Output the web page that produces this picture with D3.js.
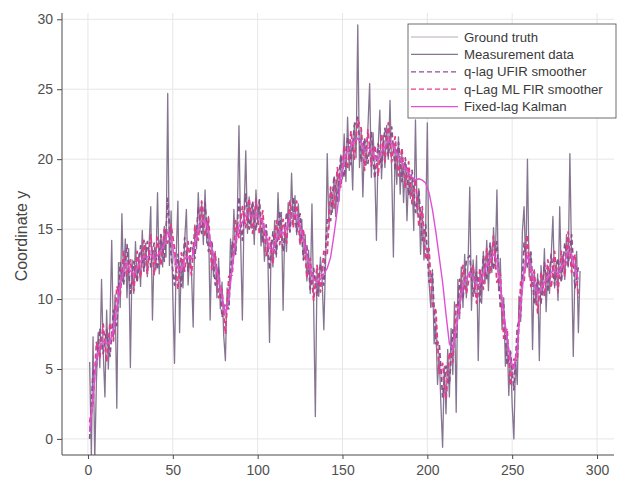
<!DOCTYPE html>
<html>
<head>
<meta charset="utf-8">
<script src="https://cdn.jsdelivr.net/npm/d3@7"></script>
<style>
  html, body { margin: 0; padding: 0; background: #fff; }
  svg { display: block; font-family: "Liberation Sans", Arial, sans-serif; }
</style>
</head>
<body>
<svg id="chart" width="627" height="485"></svg>
<script>
// ---------- DATA ----------
const xTicks = [0, 50, 100, 150, 200, 250, 300];
const yTicks = [0, 5, 10, 15, 20, 25, 30];
const seriesNames = ["Ground truth", "Measurement data", "q-lag UFIR smoother", "q-Lag ML FIR smoother", "Fixed-lag Kalman"];

// measurement data, samples k = 1..290
const measurement = [
  5.5, -1.2, 7.3, -1.5, 4.2, 7.6, 5.1, 11.4, 6.2, 3.0,
  9.2, 5.0, 8.4, 14.2, 7.1, 10.3, 2.2, 12.6, 9.4, 16.1,
  11.2, 14.3, 10.1, 13.6, 5.1, 12.8, 10.4, 14.1, 11.3, 13.2,
  10.9, 14.9, 12.2, 14.0, 11.6, 13.8, 16.6, 8.5, 13.4, 12.1,
  17.6, 11.8, 14.6, 12.3, 15.2, 13.0, 24.7, 12.4, 16.3, 10.2,
  5.4, 13.1, 17.0, 7.6, 12.9, 10.8, 14.2, 16.4, 11.0, 13.1,
  12.0, 8.0, 15.3, 13.6, 17.6, 14.8, 16.9, 13.9, 17.8, 14.0,
  15.9, 8.5, 13.8, 11.6, 13.4, 10.1, 12.9, 9.3, 11.2, 7.4,
  5.6, 10.8, 9.6, 14.3, 12.6, 16.4, 13.2, 15.8, 22.4, 14.1,
  8.5, 16.2, 20.6, 14.7, 17.3, 15.1, 16.8, 13.9, 17.8, 15.4,
  16.9, 13.8, 15.6, 12.7, 14.9, 13.1, 6.9, 14.2, 12.3, 15.6,
  13.0, 17.6, 14.5, 16.2, 9.2, 15.3, 13.4, 16.9, 14.8, 19.0,
  15.2, 17.4, 14.6, 16.8, 13.9, 15.7, 12.8, 14.6, 11.3, 13.5,
  10.4, 16.8, 9.6, 1.6, 12.1, 10.2, 13.0, 11.4, 7.8, 12.6,
  20.4, 15.1, 17.8, 16.2, 18.4, 15.9, 19.2, 17.0, 20.3, 18.6,
  21.8, 18.4, 23.0, 19.2, 21.3, 17.8, 22.6, 20.1, 29.6, 19.4,
  22.1, 17.3, 21.4, 19.6, 22.3, 25.4, 18.7, 21.9, 19.3, 14.2,
  20.8, 23.5, 18.6, 21.7, 19.4, 22.4, 20.0, 24.2, 19.1, 13.0,
  20.9, 18.2, 21.6, 17.5, 20.4, 16.9, 19.8, 15.6, 19.1, 17.2,
  18.6, 14.9, 22.8, 16.1, 17.9, 13.2, 16.4, 12.8, 15.0, 22.6,
  11.2, 9.4, 12.1, 6.8, 8.3, 3.9, 6.1, 2.4, -0.6, 5.2,
  1.8, 6.4, 3.0, 7.9, 4.6, 9.8, 1.9, 11.4, 8.6, 12.3,
  9.4, 13.2, 10.1, 12.6, 18.0, 9.2, 12.8, 10.4, 13.1, 5.6,
  11.9, 9.7, 13.4, 11.1, 14.2, 10.6, 13.8, 11.9, 15.1, 12.4,
  17.8, 10.6, 12.9, 7.8, 10.1, 5.2, 7.6, 3.1, 6.3, 2.4,
  0.0, 5.8, 3.9, 10.2, 8.4, 14.8, 16.6, 12.2, 20.0, 11.6,
  13.4, 6.4, 12.1, 9.6, 11.8, 5.6, 12.4, 10.3, 13.6, 9.1,
  12.2, 10.4, 13.1, 15.9, 10.8, 12.7, 9.9, 16.6, 11.5, 13.2,
  11.4, 14.6, 12.3, 20.4, 12.8, 5.9, 12.1, 13.4, 7.6, 12.0
];

// ground truth and smoother outputs, samples k = 1, 3, 5, ..., 289
const groundTruth = [
  0.5, 3.5, 6.0, 6.8, 7.2, 6.4, 7.0, 8.0, 9.6, 11.4,
  12.2, 12.8, 11.6, 11.5, 12.3, 12.6, 13.1, 12.8, 13.4, 12.6,
  13.2, 13.4, 13.8, 15.0, 14.2, 12.4, 11.8, 12.1, 13.2, 13.0,
  12.8, 14.0, 15.3, 15.8, 15.6, 14.6, 13.2, 12.1, 11.2, 9.6,
  8.6, 10.4, 12.8, 14.4, 15.6, 15.4, 16.2, 16.1, 15.8, 16.0,
  15.8, 15.2, 14.2, 13.2, 13.6, 14.4, 15.0, 14.5, 15.1, 15.9,
  16.2, 15.9, 15.0, 13.9, 12.6, 11.8, 11.0, 11.3, 11.6, 12.2,
  14.5, 16.8, 17.6, 18.2, 19.1, 19.8, 20.4, 20.8, 21.2, 21.6,
  21.0, 20.3, 20.9, 20.6, 19.8, 19.9, 20.6, 21.0, 21.4, 21.0,
  20.4, 20.0, 19.6, 19.0, 18.6, 18.0, 17.4, 16.4, 15.4, 14.0,
  12.4, 10.6, 8.0, 5.8, 4.2, 4.0, 5.0, 6.6, 8.4, 10.2,
  11.2, 11.6, 12.0, 11.3, 10.8, 11.0, 11.9, 12.5, 12.9, 13.3,
  12.6, 10.6, 8.4, 6.6, 5.0, 4.6, 6.8, 10.0, 12.6, 13.4,
  12.1, 10.8, 10.2, 10.8, 11.4, 11.6, 12.0, 12.2, 11.7, 12.3,
  12.8, 13.6, 13.1, 12.0, 11.2
];

const ufir = [
  0.0, 4.8, 5.2, 7.9, 6.1, 7.8, 5.9, 9.2, 8.1, 12.6,
  11.0, 13.9, 10.4, 12.7, 11.2, 13.8, 12.0, 14.1, 12.3, 14.0,
  12.1, 14.6, 12.7, 17.2, 13.1, 11.0, 13.2, 10.9, 14.4, 12.0,
  14.1, 12.9, 16.6, 14.7, 16.9, 13.4, 14.2, 11.0, 12.3, 8.7,
  9.7, 9.3, 14.1, 13.2, 17.3, 14.2, 17.5, 15.0, 17.0, 14.9,
  17.1, 14.0, 15.3, 12.1, 14.8, 13.2, 16.3, 13.4, 16.2, 14.8,
  17.3, 14.8, 16.1, 12.8, 13.8, 10.7, 12.2, 10.2, 12.5, 11.0,
  15.8, 15.6, 18.8, 17.0, 20.3, 18.7, 21.6, 19.6, 22.4, 23.0,
  19.8, 21.5, 19.7, 21.9, 18.6, 21.1, 19.4, 22.2, 20.2, 22.3,
  19.2, 21.2, 18.4, 20.1, 17.4, 19.2, 16.2, 17.7, 14.2, 15.3,
  11.2, 11.8, 6.8, 6.9, 3.0, 5.2, 3.9, 7.8, 7.1, 11.4,
  10.0, 12.8, 13.1, 10.2, 11.9, 9.8, 13.1, 11.4, 14.0, 12.1,
  14.1, 9.4, 9.6, 5.3, 6.2, 3.5, 8.0, 8.8, 14.0, 12.3,
  13.3, 9.6, 11.4, 9.7, 12.6, 10.5, 13.2, 11.0, 12.9, 11.2,
  14.0, 12.4, 14.6, 10.8, 12.3
];

const mlfir = [
  1.2, 2.6, 6.9, 5.8, 8.2, 5.5, 8.3, 7.0, 10.9, 10.3,
  13.4, 11.7, 12.8, 10.6, 13.4, 11.5, 14.2, 11.8, 14.6, 11.7,
  14.4, 12.4, 15.0, 14.0, 15.3, 13.6, 10.7, 13.3, 12.0, 14.1,
  11.7, 15.2, 14.2, 17.0, 14.5, 15.8, 12.1, 13.3, 10.1, 10.7,
  7.5, 11.6, 11.7, 15.6, 14.4, 16.6, 15.1, 17.2, 14.7, 17.1,
  14.7, 16.3, 13.1, 14.4, 12.5, 15.6, 13.9, 15.7, 14.0, 17.0,
  15.1, 17.0, 13.9, 15.0, 11.5, 12.9, 9.9, 12.4, 10.5, 13.4,
  13.2, 18.0, 16.5, 19.4, 18.0, 21.0, 19.3, 22.0, 20.0, 22.8,
  22.2, 19.2, 22.1, 19.5, 21.0, 18.8, 21.8, 19.8, 22.6, 19.8,
  21.6, 18.8, 20.8, 17.9, 19.8, 16.8, 18.6, 15.2, 16.6, 12.8,
  13.6, 9.4, 9.2, 4.7, 5.4, 2.8, 6.2, 5.5, 9.6, 9.0,
  12.4, 10.4, 11.8, 12.4, 9.7, 12.2, 10.7, 13.6, 11.8, 14.5,
  11.2, 11.8, 7.2, 7.9, 3.8, 5.7, 5.6, 11.2, 11.2, 14.6,
  10.9, 12.0, 9.0, 11.9, 10.2, 12.8, 10.8, 13.4, 10.5, 13.4,
  11.6, 14.8, 11.9, 13.2, 10.1
];

const kalman = [
  0.5, 3.0, 5.6, 6.6, 7.0, 6.8, 6.9, 7.8, 9.3, 11.0,
  12.0, 12.6, 12.0, 11.8, 12.2, 12.7, 13.0, 13.0, 13.2, 12.9,
  13.1, 13.5, 13.9, 14.8, 14.4, 13.0, 12.2, 12.0, 12.9, 13.0,
  12.9, 13.8, 15.0, 15.6, 15.6, 14.9, 13.6, 12.5, 11.5, 10.2,
  9.0, 10.0, 12.2, 14.0, 15.2, 15.5, 16.0, 16.1, 15.9, 16.0,
  15.9, 15.4, 14.5, 13.6, 13.5, 14.2, 14.9, 14.7, 15.0, 15.7,
  16.1, 16.0, 15.3, 14.3, 13.1, 12.2, 11.4, 11.2, 11.4, 11.8,
  12.2, 13.0, 14.6, 16.4, 18.6, 20.0, 20.6, 21.0, 21.3, 21.5,
  21.2, 20.6, 20.8, 20.7, 20.1, 20.0, 20.5, 20.9, 21.3, 21.1,
  20.6, 20.2, 19.8, 19.4, 19.0, 18.7, 18.5, 18.6, 18.5, 18.3,
  17.6, 16.4, 14.8, 13.0, 11.2, 8.9, 6.8, 6.4, 7.8, 9.6,
  10.9, 11.5, 11.9, 11.5, 11.0, 11.1, 11.8, 12.4, 12.8, 13.2,
  12.8, 11.1, 9.0, 7.2, 5.6, 5.0, 6.5, 9.4, 12.0, 13.1,
  12.3, 11.1, 10.4, 10.7, 11.2, 11.5, 11.9, 12.1, 11.8, 12.2,
  12.7, 13.4, 13.2, 12.2, 11.4
];

// ---------- CHART ----------
const plot = { left: 62, right: 614, top: 13, bottom: 455 };
const svg = d3.select("#chart");

const x = d3.scaleLinear().domain([-15.3, 310]).range([plot.left, plot.right]);
const y = d3.scaleLinear().domain([-1.15, 30.45]).range([plot.bottom, plot.top]);

const kMeas = d3.range(1, measurement.length + 1);
const kHalf = d3.range(1, 2 * groundTruth.length, 2);

// grid
const grid = svg.append("g").attr("class", "grid");
grid.selectAll("line.gy").data(yTicks).join("line")
  .attr("x1", plot.left).attr("x2", plot.right)
  .attr("y1", d => y(d)).attr("y2", d => y(d))
  .attr("stroke", "#e6e6e6").attr("stroke-width", 1);
grid.selectAll("line.gx").data(xTicks).join("line")
  .attr("x1", d => x(d)).attr("x2", d => x(d))
  .attr("y1", plot.top).attr("y2", plot.bottom)
  .attr("stroke", "#e6e6e6").attr("stroke-width", 1);

// clip
svg.append("defs").append("clipPath").attr("id", "clip")
  .append("rect").attr("x", plot.left).attr("y", plot.top)
  .attr("width", plot.right - plot.left).attr("height", plot.bottom - plot.top);

const styles = [
  { color: "#b8a8bb", width: 1.0, dash: null },
  { color: "#857590", width: 1.3, dash: null },
  { color: "#8a4f8e", width: 1.7, dash: "5,3" },
  { color: "#e03c88", width: 1.8, dash: "5,3" },
  { color: "#e050d4", width: 1.4, dash: null }
];

const series = [
  { xs: kHalf, ys: groundTruth },
  { xs: kMeas, ys: measurement },
  { xs: kHalf, ys: ufir },
  { xs: kHalf, ys: mlfir },
  { xs: kHalf, ys: kalman }
];

const line = d3.line().x(d => x(d[0])).y(d => y(d[1]));
const lines = svg.append("g").attr("clip-path", "url(#clip)");
const order = [1, 0, 2, 3, 4];
order.forEach(i => {
  const s = series[i];
  lines.append("path")
    .datum(s.xs.map((k, j) => [k, s.ys[j]]))
    .attr("d", line)
    .attr("fill", "none")
    .attr("stroke", styles[i].color)
    .attr("stroke-width", styles[i].width)
    .attr("stroke-dasharray", styles[i].dash)
    .attr("stroke-linejoin", "round");
});

// axes
const xAxis = d3.axisBottom(x).tickValues(xTicks).tickSize(4).tickPadding(6);
const yAxis = d3.axisLeft(y).tickValues(yTicks).tickSize(5).tickPadding(4);

const gx = svg.append("g").attr("transform", `translate(0,${plot.bottom})`).call(xAxis);
const gy = svg.append("g").attr("transform", `translate(${plot.left},0)`).call(yAxis);
[gx, gy].forEach(g => {
  g.select(".domain").attr("stroke", "#4a4a4a").attr("stroke-width", 1);
  g.selectAll(".tick line").attr("stroke", "#4a4a4a");
  g.selectAll(".tick text").attr("fill", "#505050")
    .style("font-family", "'Liberation Sans', Arial, sans-serif").style("font-size", "14px");
});
gx.select(".domain").attr("d", `M${plot.left},0H${plot.right}`);
gy.select(".domain").attr("d", `M0,${plot.bottom}V${plot.top}`);

// y label
svg.append("text")
  .attr("transform", `translate(27,${(plot.top + plot.bottom) / 2 + 2}) rotate(-90)`)
  .attr("text-anchor", "middle")
  .attr("fill", "#454545")
  .style("font-size", "16px")
  .text("Coordinate y");

// legend
const lg = { x: 408, y: 24, w: 208, h: 94 };
const leg = svg.append("g");
leg.append("rect").attr("x", lg.x).attr("y", lg.y).attr("width", lg.w).attr("height", lg.h)
  .attr("fill", "#fff").attr("stroke", "#4a4a4a").attr("stroke-width", 0.8);
seriesNames.forEach((name, i) => {
  const yy = lg.y + 13 + i * 17.4;
  leg.append("line")
    .attr("x1", lg.x + 3).attr("x2", lg.x + 50)
    .attr("y1", yy).attr("y2", yy)
    .attr("stroke", styles[i].color)
    .attr("stroke-width", Math.min(styles[i].width, 1.3))
    .attr("stroke-dasharray", styles[i].dash);
  leg.append("text")
    .attr("x", lg.x + 56).attr("y", yy + 4.5)
    .attr("fill", "#3a3a3a")
    .style("font-size", "13.2px")
    .text(name);
});
</script>
</body>
</html>
